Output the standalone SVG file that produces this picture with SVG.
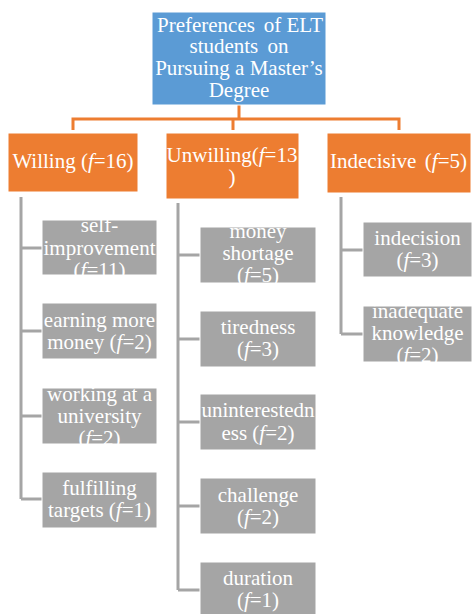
<svg xmlns="http://www.w3.org/2000/svg" width="474" height="614" viewBox="0 0 474 614" font-family="'Liberation Serif', serif">
<style>
  text { font-size: 21px; fill: #ffffff; text-anchor: middle; }
  .it { font-style: italic; }
  .root { fill: #5B9BD5; stroke: #ffffff; stroke-width: 1; }
  .cat { fill: #ED7D31; stroke: #ffffff; stroke-width: 1; }
  .leaf { fill: #A5A5A5; stroke: #ffffff; stroke-width: 1; }
  .oline { fill: none; stroke: #ED7D31; stroke-width: 3; }
  .gline { fill: none; stroke: #A5A5A5; stroke-width: 3; }
</style>
<defs>
  <clipPath id="c-self"><rect x="42" y="220" width="115" height="55"/></clipPath>
  <clipPath id="c-work"><rect x="42" y="388" width="115" height="56"/></clipPath>
  <clipPath id="c-money"><rect x="200" y="227" width="116" height="56"/></clipPath>
  <clipPath id="c-inad"><rect x="363" y="306" width="109" height="56"/></clipPath>
</defs>

<g id="connectors">
  <path class="oline" d="M239 105 V119 M73 130 V119 H399 V130 M233 119 V130"/>
  <path class="gline" d="M21 197 V499 M21 248 H42 M21 331 H42 M21 416 H42 M21 499 H42"/>
  <path class="gline" d="M178 203 V590 M178 255 H200 M178 339 H200 M178 422 H200 M178 506 H200 M178 590 H200"/>
  <path class="gline" d="M341 197 V334 M341 250 H363 M341 334 H363"/>
</g>

<g id="root">
  <rect class="root" x="152" y="12" width="174" height="93"/>
  <text><tspan x="157" y="32" style="text-anchor:start">Preferences</tspan><tspan x="323" y="32" style="text-anchor:end">of ELT</tspan></text>
  <text x="239" y="53" word-spacing="4">students on</text>
  <text x="239" y="75">Pursuing a Master’s</text>
  <text x="239" y="97">Degree</text>
</g>

<g id="willing">
  <rect class="cat" x="8" y="133" width="130" height="59"/>
  <text x="73" y="168">Willing (<tspan class="it">f</tspan>=16)</text>
</g>
<g id="unwilling">
  <rect class="cat" x="166" y="133" width="133" height="66"/>
  <text x="232" y="162">Unwilling(<tspan class="it">f</tspan>=13</text>
  <text x="232" y="184">)</text>
</g>
<g id="indecisive">
  <rect class="cat" x="327" y="133" width="144" height="60"/>
  <text><tspan x="330" y="168" style="text-anchor:start">Indecisive</tspan><tspan x="467" y="168" style="text-anchor:end">(<tspan class="it">f</tspan>=5)</tspan></text>
</g>

<g id="self-improvement">
  <rect class="leaf" x="42" y="220" width="115" height="55"/>
  <g clip-path="url(#c-self)">
    <text x="99.5" y="232">self-</text>
    <text x="99.5" y="255">improvement</text>
    <text x="99.5" y="277">(<tspan class="it">f</tspan>=11)</text>
  </g>
</g>
<g id="earning-more-money">
  <rect class="leaf" x="42" y="303" width="115" height="56"/>
  <text x="99.5" y="327">earning more</text>
  <text x="99.5" y="349">money (<tspan class="it">f</tspan>=2)</text>
</g>
<g id="working-university">
  <rect class="leaf" x="42" y="388" width="115" height="56"/>
  <g clip-path="url(#c-work)">
    <text x="99.5" y="401">working at a</text>
    <text x="99.5" y="423">university</text>
    <text x="99.5" y="445">(<tspan class="it">f</tspan>=2)</text>
  </g>
</g>
<g id="fulfilling-targets">
  <rect class="leaf" x="42" y="472" width="115" height="56"/>
  <text x="99.5" y="495">fulfilling</text>
  <text x="99.5" y="517">targets (<tspan class="it">f</tspan>=1)</text>
</g>

<g id="money-shortage">
  <rect class="leaf" x="200" y="227" width="116" height="56"/>
  <g clip-path="url(#c-money)">
    <text x="258" y="238">money</text>
    <text x="258" y="260">shortage</text>
    <text x="258" y="282">(<tspan class="it">f</tspan>=5)</text>
  </g>
</g>
<g id="tiredness">
  <rect class="leaf" x="200" y="311" width="116" height="56"/>
  <text x="258" y="334">tiredness</text>
  <text x="258" y="356">(<tspan class="it">f</tspan>=3)</text>
</g>
<g id="uninterestedness">
  <rect class="leaf" x="200" y="394" width="116" height="56"/>
  <text x="258" y="417">uninterestedn</text>
  <text x="258" y="440">ess (<tspan class="it">f</tspan>=2)</text>
</g>
<g id="challenge">
  <rect class="leaf" x="200" y="478" width="116" height="56"/>
  <text x="258" y="502">challenge</text>
  <text x="258" y="524">(<tspan class="it">f</tspan>=2)</text>
</g>
<g id="duration">
  <rect class="leaf" x="200" y="562" width="116" height="56"/>
  <text x="258" y="585">duration</text>
  <text x="258" y="607">(<tspan class="it">f</tspan>=1)</text>
</g>

<g id="indecision">
  <rect class="leaf" x="363" y="222" width="109" height="55"/>
  <text x="417.5" y="245">indecision</text>
  <text x="417.5" y="267">(<tspan class="it">f</tspan>=3)</text>
</g>
<g id="inadequate-knowledge">
  <rect class="leaf" x="363" y="306" width="109" height="56"/>
  <g clip-path="url(#c-inad)">
    <text x="417.5" y="318">inadequate</text>
    <text x="417.5" y="340">knowledge</text>
    <text x="417.5" y="362">(<tspan class="it">f</tspan>=2)</text>
  </g>
</g>
</svg>
